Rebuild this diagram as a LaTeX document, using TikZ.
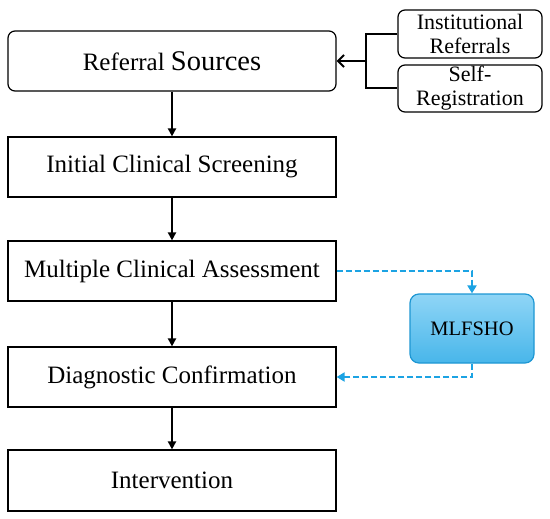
\documentclass[tikz,border=0pt]{standalone}
\usepackage{fontspec}
\setmainfont{Liberation Serif}
\usetikzlibrary{arrows.meta,positioning}
\definecolor{bl}{HTML}{1CA3E3}
\definecolor{blfill1}{HTML}{8FD5F6}
\definecolor{blfill2}{HTML}{48B6EA}
\definecolor{bldraw}{HTML}{1E97D3}
\tikzset{
  mainbox/.style={draw=black, line width=1.2pt, minimum width=328pt, inner sep=0pt, font=\fontsize{25}{28}\selectfont},
  sidebox/.style={draw=black, line width=1.2pt, rounded corners=7pt, minimum width=144pt, inner sep=0pt, align=center, font=\fontsize{22}{24}\selectfont},
  mlbox/.style={draw=bldraw, line width=1.2pt, rounded corners=9pt, top color=blfill1, bottom color=blfill2, minimum width=124pt, minimum height=69pt, inner sep=0pt, font=\fontsize{20.5}{22}\selectfont},
  flow/.style={line width=2pt, -{Triangle[length=8pt,width=8pt]}},
  brk/.style={line width=2pt},
  inarr/.style={line width=2pt, -{Straight Barb[length=6pt,width=12pt]}},
  bluedash/.style={color=bl, line width=2pt, dash pattern=on 6pt off 3pt, -{Triangle[length=8pt,width=9pt]}}
}
\begin{document}
\begin{tikzpicture}[x=1pt,y=-1pt]
\useasboundingbox (0,0) rectangle (550,519);
\node[mainbox, rounded corners=7pt, minimum height=60pt] (rs) at (172,61) {Referral {\fontsize{28.5}{30}\selectfont Sources}};
\node[mainbox, minimum height=60pt] (ics) at (172,167) {Initial Clinical Screening};
\node[mainbox, minimum height=60pt] (mca) at (172,271) {Multiple Clinical Assessment};
\node[mainbox, minimum height=60pt] (dc) at (172,377) {Diagnostic Confirmation};
\node[mainbox, minimum height=61pt] (iv) at (172,480.5) {Intervention};
\node[sidebox, minimum height=48pt] (ir) at (470,34) {Institutional\\Referrals};
\node[sidebox, minimum height=47pt] (sr) at (470,88.5) {Self-\\Registration};
\node[mlbox] (ml) at (472,328.5) {MLFSHO};
\draw[flow] (rs) -- (ics);
\draw[flow] (ics) -- (mca);
\draw[flow] (mca) -- (dc);
\draw[flow] (dc) -- (iv);
\draw[brk] (ir.west) -- ++(-31,0) |- (sr.west);
\coordinate (j) at (367,61);
\draw[inarr] (j) -- (rs.east);
\draw[bluedash] (mca.east) -| (ml.north);
\draw[bluedash] (ml.south) |- (dc.east);
\end{tikzpicture}
\end{document}
